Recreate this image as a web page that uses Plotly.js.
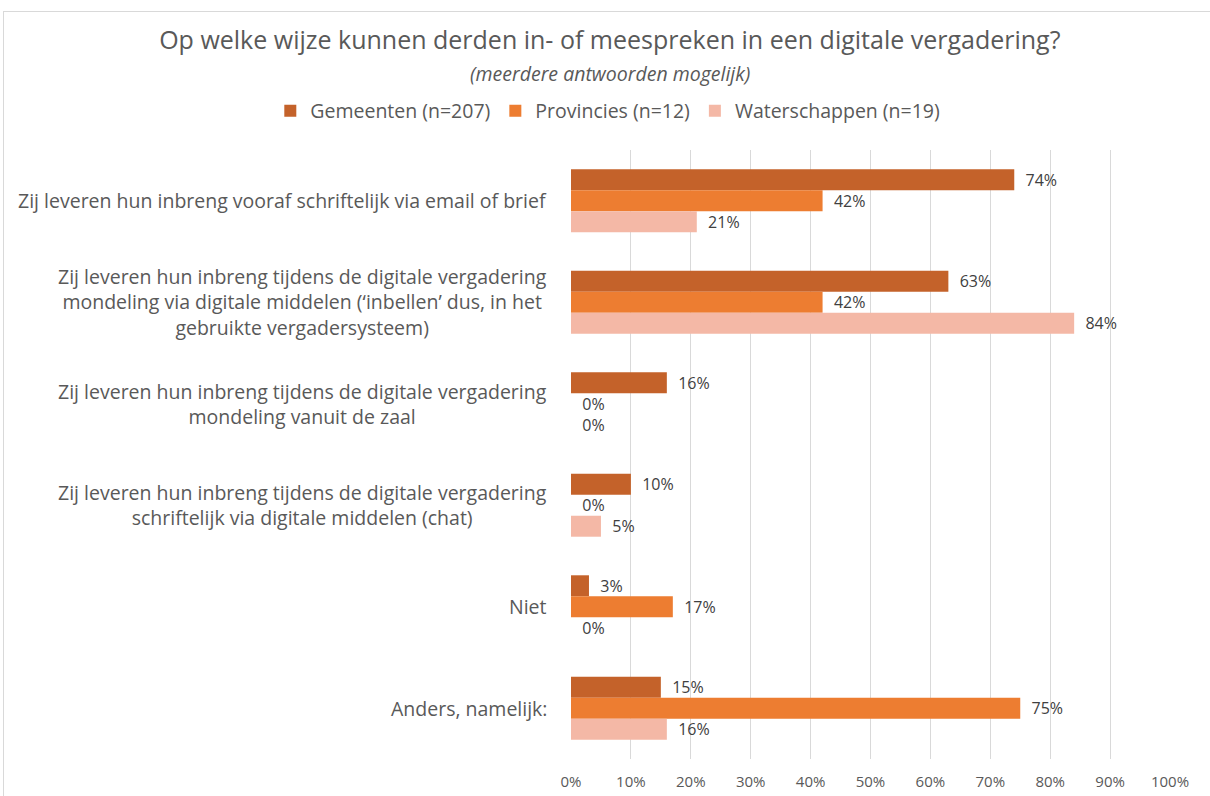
<!DOCTYPE html>
<html>
<head>
<meta charset="utf-8">
<script src="https://cdn.plot.ly/plotly-3.0.1.min.js"></script>
<style>
html,body{margin:0;padding:0;overflow:hidden;background:#fff;}
#chart{width:1210px;height:796px;}
#frame{position:absolute;left:3px;top:11px;width:1230px;height:820px;border:1px solid #d9d9d9;pointer-events:none;}
</style>
</head>
<body>
<div id="chart"></div>
<div id="frame"></div>
<script>
const categories = [
  "Zij leveren hun inbreng vooraf schriftelijk via email of brief",
  "Zij leveren hun inbreng tijdens de digitale vergadering<br>mondeling via digitale middelen (‘inbellen’ dus, in het<br>gebruikte vergadersysteem)",
  "Zij leveren hun inbreng tijdens de digitale vergadering<br>mondeling vanuit de zaal",
  "Zij leveren hun inbreng tijdens de digitale vergadering<br>schriftelijk via digitale middelen (chat)",
  "Niet",
  "Anders, namelijk:"
];
const seriesNames = ["Gemeenten (n=207)", "Provincies (n=12)", "Waterschappen (n=19)"];
const gemeenten = [74, 63, 16, 10, 3, 15];
const provincies = [42, 42, 0, 0, 17, 75];
const waterschappen = [21, 84, 0, 5, 0, 16];
const seriesColors = ["#C4622A", "#ED7D31", "#F4B8A6"];
const tickVals = [0,10,20,30,40,50,60,70,80,90,100];
const tickText = tickVals.map(v => v + "%");
const titleText = "Op welke wijze kunnen derden in- of meespreken in een digitale vergadering?";
const subtitleText = "(meerdere antwoorden mogelijk)";

const FONT = "'Open Sans', 'Noto Sans', sans-serif";

const allSeries = [gemeenten, provincies, waterschappen];
const traces = allSeries.map((vals, i) => ({
  type: "bar",
  orientation: "h",
  name: seriesNames[i],
  y: categories,
  x: vals,
  marker: {color: seriesColors[i]},
  text: vals.map(v => "\u00a0\u00a0" + v + "%"),
  textposition: "outside",
  textfont: {family: FONT, size: 16, color: "#404040"},
  cliponaxis: false,
  constraintext: "none",
  hoverinfo: "x+name"
}));

const annotations = categories.map(c => ({
  xref: "paper", yref: "y", x: 0, y: c,
  xanchor: "right", yanchor: "middle", xshift: -22,
  text: c, showarrow: false, align: "center",
  font: {family: FONT, size: 19.5, color: "#595959"}
}));
annotations.push({
  xref: "paper", yref: "paper", x: 0.065, y: 1 + (150 - 73) / 609,
  xanchor: "center", yanchor: "middle",
  text: "<i>" + subtitleText + "</i>", showarrow: false,
  font: {family: FONT, size: 19.5, color: "#595959"}
});

const layout = {
  width: 1210, height: 796,
  margin: {l: 571, r: 40, t: 150, b: 37},
  paper_bgcolor: "#fff", plot_bgcolor: "#fff",
  font: {family: FONT, color: "#595959"},
  title: {
    text: titleText,
    font: {family: FONT, size: 25, color: "#595959"},
    x: 0.504, xref: "container", xanchor: "center",
    y: 1 - 40/796, yref: "container", yanchor: "middle"
  },
  barmode: "group",
  bargap: 0.38,
  bargroupgap: 0,
  showlegend: true,
  legend: {
    orientation: "h", xref: "paper", x: -0.502, xanchor: "left",
    yref: "paper", y: 1.064, yanchor: "middle",
    font: {family: FONT, size: 19.5, color: "#595959"},
    traceorder: "normal",
    itemwidth: 30
  },
  xaxis: {
    range: [0, 100],
    tickvals: tickVals, ticktext: tickText,
    showgrid: true, gridcolor: "#d9d9d9", gridwidth: 1,
    zeroline: false, showline: false,
    ticks: "", ticklabelstandoff: 12,
    tickfont: {family: FONT, size: 15, color: "#595959"},
    fixedrange: true
  },
  yaxis: {
    type: "category",
    autorange: "reversed",
    showticklabels: false,
    showgrid: false, zeroline: false, showline: false,
    ticks: "", fixedrange: true
  },
  annotations: annotations
};

Plotly.newPlot("chart", traces, layout, {displayModeBar: false, staticPlot: true});
</script>
</body>
</html>
